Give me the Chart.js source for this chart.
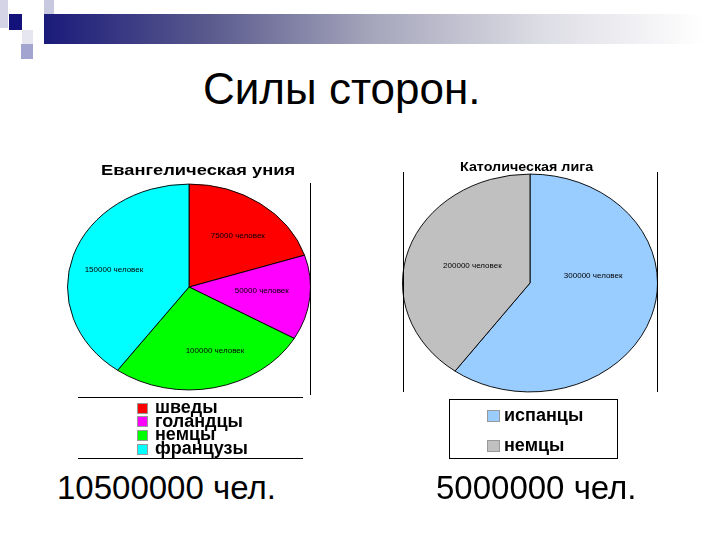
<!DOCTYPE html>
<html lang="ru">
<head>
    <meta charset="UTF-8">
    <title>Силы сторон</title>
    <script src="https://cdn.jsdelivr.net/npm/chart.js"></script>
    <style>
        body { margin: 0; width: 720px; height: 540px; background: #fff; position: relative; overflow: hidden;
               font-family: "Liberation Sans", Arial, sans-serif; }
        .abs { position: absolute; }
        .sq { position: absolute; }
        #bar { left: 44px; top: 14px; width: 660px; height: 30px;
               background: linear-gradient(to right, #1a1a7a 0%, #5a5a8e 25%, #a6a6bc 50%, #dcdce4 75%, #fff 100%); }
        .line { position: absolute; background: #000; }
        #mainTitle { left: 203px; top: 64px; font-size: 44px; color: #000; white-space: nowrap; }
        .total { font-size: 33px; top: 469px; white-space: nowrap; }
        .ctitle { font-weight: bold; color: #000; white-space: nowrap; z-index: 2; transform-origin: 0 50%; }
        .legend { position: absolute; font-weight: bold; color: #000; z-index: 2; }
        .legend div { position: relative; white-space: nowrap; }
        .legend span.box { display: inline-block; border: 1px solid #999; box-sizing: border-box; vertical-align: middle; }
        canvas { position: absolute; }
    </style>
</head>
<body>

<!-- оформление слайда -->
<div class="sq" style="left:0;top:0;width:8px;height:28px;background:#d4d4e6"></div>
<div class="sq" style="left:9px;top:14px;width:13px;height:16px;background:#12127a"></div>
<div class="sq" style="left:22px;top:30px;width:11px;height:14px;background:#e6e6f0"></div>
<div class="sq" style="left:21px;top:44px;width:12px;height:15px;background:#a4a4d0"></div>
<div class="sq" style="left:44px;top:0;width:10px;height:14px;background:#c8c8e0"></div>
<div id="bar" class="abs"></div>

<div id="mainTitle" class="abs">Силы сторон.</div>

<div class="abs ctitle" style="left:101px;top:161px;font-size:15px;transform:scaleX(1.22)">Евангелическая уния</div>
<div class="abs ctitle" style="left:460px;top:159px;font-size:13px;transform:scaleX(1.1)">Католическая лига</div>

<canvas id="leftPie" width="244" height="244" style="left:67px;top:165px"></canvas>
<canvas id="rightPie" width="256" height="256" style="left:402px;top:155px"></canvas>

<!-- рамки -->
<div class="line" style="left:310px;top:183px;width:1px;height:212px"></div>
<div class="line" style="left:78px;top:397px;width:225px;height:1px"></div>
<div class="line" style="left:78px;top:458px;width:225px;height:1px"></div>
<div class="line" style="left:403px;top:172px;width:1px;height:220px"></div>
<div class="line" style="left:657px;top:172px;width:1px;height:220px"></div>
<div class="abs" style="left:449px;top:399px;width:167px;height:58px;border:1px solid #000"></div>

<div id="leftLegend" class="legend" style="left:137px;top:401px;font-size:18px;line-height:13.7px"></div>
<div id="rightLegend" class="legend" style="left:487px;top:400px;font-size:18px;line-height:30px"></div>

<div class="abs total" style="left:57px">10500000 чел.</div>
<div class="abs total" style="left:436px">5000000 чел.</div>

<script>
    // Евангелическая уния
    const leftLabels = ['шведы', 'голандцы', 'немцы', 'французы'];
    const leftValues = [75000, 50000, 100000, 150000];
    const leftColors = ['#FF0000', '#FF00FF', '#00FF00', '#00FFFF'];

    // Католическая лига
    const rightLabels = ['испанцы', 'немцы'];
    const rightValues = [300000, 200000];
    const rightColors = ['#99CCFF', '#C0C0C0'];

    const unit = ' человек';

    // сплющиваем круг в эллипс и подписываем сектора
    const ellipsePlugin = {
        id: 'ellipse',
        beforeDatasetsDraw(chart, args, opts) {
            const ctx = chart.ctx;
            const a = chart.chartArea;
            const cx = (a.left + a.right) / 2, cy = (a.top + a.bottom) / 2;
            ctx.save();
            ctx.translate(cx, cy);
            ctx.scale(1, opts.ratio);
            ctx.translate(-cx, -cy);
        },
        afterDatasetsDraw(chart, args, opts) {
            const ctx = chart.ctx;
            ctx.restore();
            const a = chart.chartArea;
            const cy = (a.top + a.bottom) / 2;
            const values = chart.data.datasets[0].data;
            ctx.save();
            ctx.font = '8px "Liberation Sans", Arial, sans-serif';
            ctx.fillStyle = '#000';
            ctx.textAlign = 'center';
            ctx.textBaseline = 'middle';
            chart.getDatasetMeta(0).data.forEach((arc, i) => {
                const p = arc.getProps(['x', 'y', 'startAngle', 'endAngle', 'outerRadius']);
                const mid = (p.startAngle + p.endAngle) / 2 + (opts.shift ? opts.shift[i] : 0);
                const r = p.outerRadius * opts.labelRadius[i];
                const x = p.x + Math.cos(mid) * r;
                const y = cy + Math.sin(mid) * r * opts.ratio;
                ctx.fillText(values[i] + unit, x, y);
            });
            ctx.restore();
        }
    };

    function drawPie(id, labels, values, colors, ratio, labelRadius, shift) {
        const ctx = document.getElementById(id).getContext('2d');
        return new Chart(ctx, {
            type: 'pie',
            data: {
                labels: labels,
                datasets: [{
                    data: values,
                    backgroundColor: colors,
                    borderColor: '#000',
                    borderWidth: 1
                }]
            },
            options: {
                responsive: false,
                animation: false,
                devicePixelRatio: 1,
                layout: { padding: 0 },
                plugins: {
                    legend: { display: false },
                    tooltip: { enabled: false },
                    ellipse: { ratio: ratio, labelRadius: labelRadius, shift: shift }
                }
            },
            plugins: [ellipsePlugin]
        });
    }

    function buildLegend(chart, elId, boxW, boxH, gap) {
        const el = document.getElementById(elId);
        const items = chart.options.plugins.legend.labels.generateLabels(chart);
        items.forEach(item => {
            const row = document.createElement('div');
            row.innerHTML = '<span class="box" style="width:' + boxW + 'px;height:' + boxH + 'px;background:' +
                item.fillStyle + ';margin-right:' + gap + 'px"></span>' + item.text;
            el.appendChild(row);
        });
    }

    const leftChart = drawPie('leftPie', leftLabels, leftValues, leftColors, 205 / 242,
        [0.64, 0.6, 0.66, 0.64], [0.05, -0.04, -0.12, -0.05]);
    const rightChart = drawPie('rightPie', rightLabels, rightValues, rightColors, 217 / 254,
        [0.5, 0.48], [-0.45, 0.03]);

    buildLegend(leftChart, 'leftLegend', 11, 11, 7);
    buildLegend(rightChart, 'rightLegend', 13, 12, 4);
</script>
</body>
</html>
